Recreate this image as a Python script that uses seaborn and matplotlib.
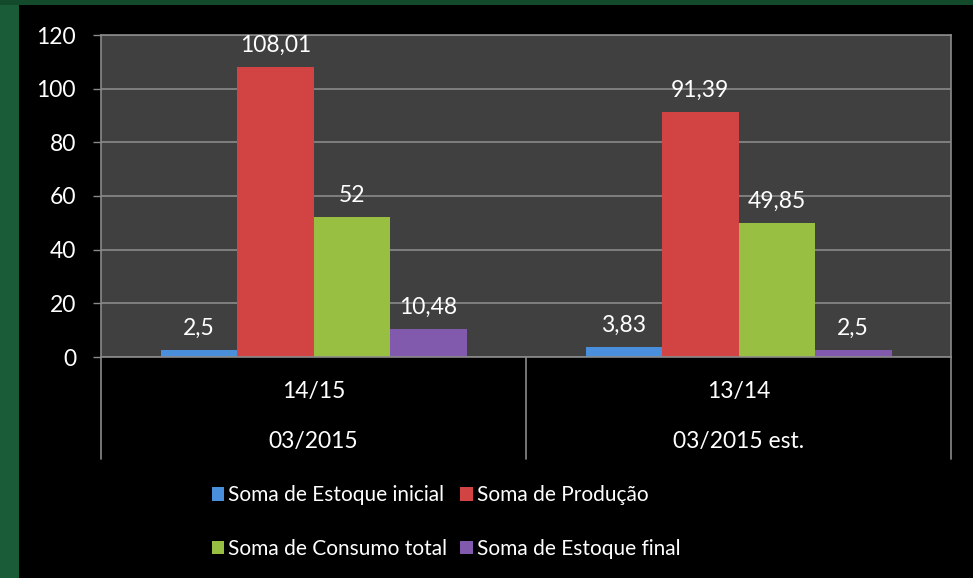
import pandas as pd
import seaborn as sns
import matplotlib.pyplot as plt
from matplotlib.patches import Rectangle

# Chart data
safras = ['14/15', '13/14']
levantamentos = ['03/2015', '03/2015 est.']
series = ['Soma de Estoque inicial', 'Soma de Produção',
          'Soma de Consumo total', 'Soma de Estoque final']
estoque_inicial = [2.5, 3.83]
producao = [108.01, 91.39]
consumo_total = [52, 49.85]
estoque_final = [10.48, 2.5]

colors = ['#4a8fdc', '#d24343', '#98bf42', '#8159ad']

# Long table for seaborn
rows = []
for i, safra in enumerate(safras):
    for name, vals in zip(series, [estoque_inicial, producao, consumo_total, estoque_final]):
        rows.append({'safra': safra, 'serie': name, 'valor': vals[i]})
df = pd.DataFrame(rows)

sns.set_style('dark')
plt.rcParams['font.family'] = ['Lato', 'DejaVu Sans']
fs = 16.5

fig = plt.figure(figsize=(9.73, 5.78), dpi=100, facecolor='#1a5c38')
# black chart area over the green frame
fig.patches.append(Rectangle((19 / 973, 0), 1, 1 - 5 / 578, transform=fig.transFigure,
                             facecolor='black', edgecolor='none', zorder=-2))
fig.patches.append(Rectangle((0, 1 - 5 / 578), 1, 5 / 578, transform=fig.transFigure,
                             facecolor='#134a2c', edgecolor='none', zorder=-2))

ax = fig.add_axes([101 / 973, 1 - 357 / 578, 850 / 973, 322 / 578])
ax.set_facecolor('#404040')

sns.barplot(data=df, x='safra', y='valor', hue='serie', order=safras, hue_order=series,
            palette=colors, width=0.72, gap=0, saturation=1, ax=ax, legend=True,
            edgecolor='none', err_kws={'linewidth': 0})

ax.set_ylim(0, 120)
ax.set_yticks(range(0, 121, 20))
ax.set_xlim(-0.5, 1.5)
ax.grid(axis='y', color='#8a8a8a', linewidth=1.2)
ax.grid(axis='x', visible=False)
ax.set_axisbelow(True)
ax.set_xlabel('')
ax.set_ylabel('')
ax.set_xticks([])
ax.tick_params(axis='y', colors='white', labelsize=fs, length=6, width=1,
               pad=12, left=True)
ax.tick_params(axis='y', color='#8a8a8a')
for s in ax.spines.values():
    s.set_color('#8a8a8a')
    s.set_linewidth(1.2)

# data labels
def fmt(v):
    return f'{v:g}'.replace('.', ',')

for cont in ax.containers:
    ax.bar_label(cont, labels=[fmt(b.get_height()) for b in cont], padding=8,
                 color='white', fontsize=fs)

# multi-level category axis
for xpos in [-0.5, 0.5, 1.5]:
    ax.plot([xpos, xpos], [0, -38], color='#8a8a8a', linewidth=1.2, clip_on=False)
for i, (safra, lev) in enumerate(zip(safras, levantamentos)):
    ax.text(i, -13, safra, ha='center', va='center', color='white', fontsize=fs,
            clip_on=False)
    ax.text(i, -31.5, lev, ha='center', va='center', color='white', fontsize=fs,
            clip_on=False)

# legend, rows: inicial / Produção, Consumo / final
handles, labels = ax.get_legend_handles_labels()
ax.get_legend().remove()
order = [0, 2, 1, 3]
fig.legend([handles[k] for k in order], [labels[k] for k in order], loc='center',
           bbox_to_anchor=(446 / 973, 1 - 522 / 578),
           ncol=2, frameon=False, fontsize=15, labelcolor='white',
           handlelength=0.6, handleheight=0.6, handletextpad=0.2,
           columnspacing=0.6, labelspacing=1.6, borderpad=0)

fig.savefig('out.png', dpi=100, facecolor=fig.get_facecolor())
